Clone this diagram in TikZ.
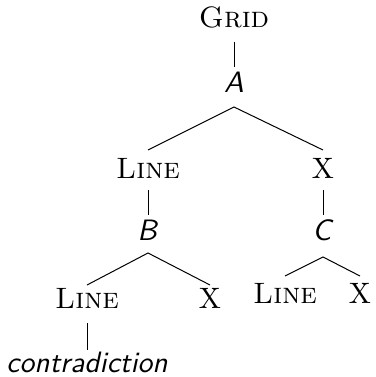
\documentclass[tikz,border=0pt]{standalone}
\begin{document}
\begin{tikzpicture}[x=1pt,y=-1pt,
  lbl/.style={anchor=base,inner sep=0pt,scale=2.95,font=\fontsize{10}{12}\selectfont},
  branch/.style={line width=1pt}]
\useasboundingbox (0,0) rectangle (375,377);
% tree labels, placed by their baselines
\node[lbl] (grid)   at (234,28)  {\textsc{Grid}};
\node[lbl] (a)      at (234,93)  {\textsf{\textit{A}}};
\node[lbl] (line1)  at (148,178) {\textsc{Line}};
\node[lbl] (x1)     at (323,178) {X};
\node[lbl] (b)      at (148,240) {\textsf{\textit{B}}};
\node[lbl] (c)      at (323,240) {\textsf{\textit{C}}};
\node[lbl] (line2)  at (87,308)  {\textsc{Line}};
\node[lbl] (x2)     at (210,308) {X};
\node[lbl] (line3)  at (285,303) {\textsc{Line}};
\node[lbl] (x3)     at (360,303) {X};
\node[lbl] (contra) at (87,372)  {\textsf{\textit{contradiction}}};
% branches
\draw[branch] ([yshift=-14pt]grid.base) -- ([yshift=26pt]a.base);
\draw[branch] ([yshift=28pt]line1.base) -- ([yshift=-14pt]a.base) -- ([yshift=28pt]x1.base);
\draw[branch] ([yshift=-12pt]line1.base) -- ([yshift=25pt]b.base);
\draw[branch] ([yshift=-12pt]x1.base) -- ([yshift=25pt]c.base);
\draw[branch] ([yshift=23pt]line2.base) -- ([yshift=-13pt]b.base) -- ([yshift=23pt]x2.base);
\draw[branch] ([yshift=27pt]line3.base) -- ([yshift=-17pt]c.base) -- ([yshift=27pt]x3.base);
\draw[branch] ([yshift=-15pt]line2.base) -- ([yshift=22pt]contra.base);
\end{tikzpicture}
\end{document}
